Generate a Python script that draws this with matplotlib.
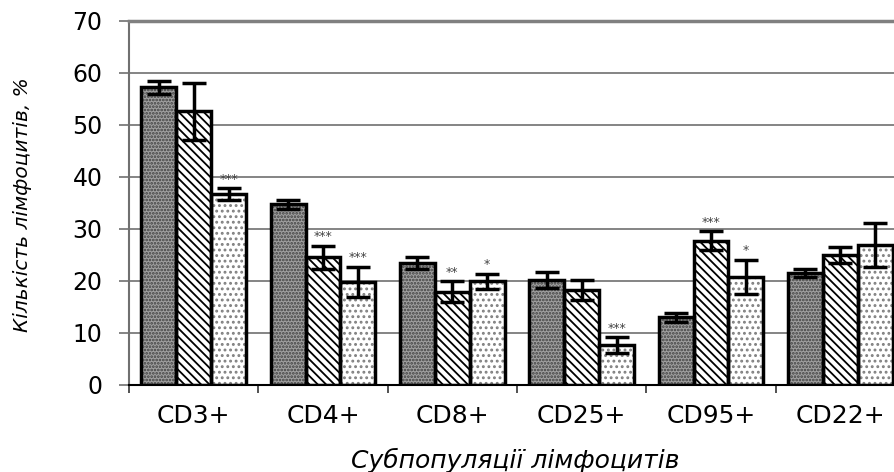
import matplotlib.pyplot as plt
import numpy as np

plt.rcParams['font.family'] = ['DejaVu Sans']
plt.rcParams['hatch.linewidth'] = 1.3

categories = ['CD3+', 'CD4+', 'CD8+', 'CD25+', 'CD95+', 'CD22+']
group1 = [57.2, 34.7, 23.4, 20.2, 13.0, 21.5]
group1_err = [1.2, 0.9, 1.1, 1.5, 0.8, 0.7]
group2 = [52.6, 24.5, 17.9, 18.3, 27.7, 25.0]
group2_err = [5.5, 2.2, 2.0, 1.9, 1.8, 1.6]
group3 = [36.7, 19.8, 19.9, 7.7, 20.7, 26.9]
group3_err = [1.1, 2.9, 1.5, 1.5, 3.3, 4.3]
marks2 = ['', '***', '**', '', '***', '']
marks3 = ['***', '***', '*', '***', '*', '']

fig = plt.figure(figsize=(8.94, 4.72), dpi=100)
fig.set_facecolor('white')
ax = fig.add_axes([129/894, (472-385)/472, (905-129)/894, (385-20.7)/472])

x = np.arange(len(categories))
w = 0.27
# (values, errors, face, hatch, hatch colour, significance marks)
series = [
    (group1, group1_err, '#a0a0a0', '.....', '#404040', None),
    (group2, group2_err, 'white', '\\\\\\\\', 'black', marks2),
    (group3, group3_err, 'white', '...', '#808080', marks3),
]

for i, (vals, errs, fc, hatch, hc, marks) in enumerate(series):
    xs = x + (i - 1) * w
    # fill with pattern, then the thick black outline on top
    ax.bar(xs, vals, w, color=fc, edgecolor=hc, hatch=hatch, linewidth=0, zorder=2)
    ax.bar(xs, vals, w, fill=False, edgecolor='black', linewidth=2.5, zorder=2.5)
    ax.errorbar(xs, vals, yerr=errs, fmt='none', ecolor='black', elinewidth=2.5,
                capsize=8.5, capthick=2.5, zorder=3)
    if marks:
        for xi, v, e, m in zip(xs, vals, errs, marks):
            if m:
                ax.text(xi, v + e + 0.5, m, ha='center', va='bottom', fontsize=9, color='#444444')

ax.set_xlim(-0.5, len(categories) - 0.5)
ax.set_ylim(0, 70)
ax.set_yticks(range(0, 71, 10))
ax.yaxis.grid(True, color='#707070', linewidth=1.2, zorder=0)
ax.set_axisbelow(True)
ax.tick_params(axis='y', direction='out', length=7, width=1.2, color='#707070', labelsize=17, pad=12)
ax.set_xticks(x)
ax.set_xticklabels(categories)
ax.tick_params(axis='x', which='major', length=0, labelsize=18, pad=14)
ax.set_xticks(np.arange(-0.5, len(categories), 1), minor=True)
ax.tick_params(axis='x', which='minor', direction='out', length=6, width=1.2, color='#333333')

ax.spines['top'].set_color('#808080')
ax.spines['top'].set_linewidth(2.5)
ax.spines['right'].set_visible(False)
ax.spines['left'].set_color('#707070')
ax.spines['left'].set_linewidth(1.5)
ax.spines['bottom'].set_color('black')
ax.spines['bottom'].set_linewidth(1.5)

fig.text(23/894, 1 - 205/472, 'Кількість лімфоцитів, %', rotation=90, style='italic',
         fontsize=14.5, ha='center', va='center')
fig.text(515/894, 1 - 460/472, 'Субпопуляції лімфоцитів', style='italic',
         fontsize=18, ha='center', va='center')

plt.savefig('out.png', dpi=100)
